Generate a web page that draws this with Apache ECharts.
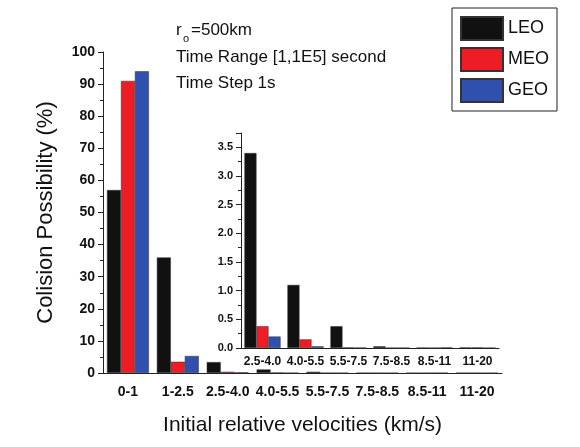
<!DOCTYPE html>
<html><head><meta charset="utf-8">
<script src="https://cdn.jsdelivr.net/npm/echarts@6/dist/echarts.min.js"></script>
<style>html,body{margin:0;background:#fff}#c{width:580px;height:447px}</style>
</head><body><div id="c"></div>
<script>
const categories = ['0-1','1-2.5','2.5-4.0','4.0-5.5','5.5-7.5','7.5-8.5','8.5-11','11-20'];
const leo = [57,36,3.4,1.1,0.38,0.03,0.005,0.01];
const meo = [91,3.5,0.38,0.15,0.01,0.003,0.003,0.01];
const geo = [94,5.3,0.2,0.03,0.005,0.003,0.01,0.003];
const insetCategories = categories.slice(2);
const colors = ['#111111','#ee1c25','#3050b0'];
const F = 'Arial, Liberation Sans, sans-serif';
const chart = echarts.init(document.getElementById('c'));
const axisLine = {show:true, lineStyle:{color:'#222',width:1}};
const bar = (name, data, xi, yi, c) => ({type:'bar', name, data, xAxisIndex:xi, yAxisIndex:yi,
  barGap:'0%', barCategoryGap:'16%', itemStyle:{color:c, borderColor:'#333', borderWidth:0.5}});
chart.setOption({
  animation:false,
  textStyle:{fontFamily:F},
  grid:[{left:103,right:78,top:52,bottom:74},{left:241,right:81,top:133,bottom:99}],
  legend:{orient:'vertical', right:23, top:8, icon:'rect', itemWidth:42, itemHeight:23, itemGap:6,
    textStyle:{fontSize:18, color:'#111', fontFamily:F}, borderColor:'#222', borderWidth:1, padding:[8,8,8,8],
    data:['LEO','MEO','GEO']},
  xAxis:[
    {type:'category', data:categories, gridIndex:0, axisLine,
      axisLabel:{fontSize:14, fontWeight:'bold', color:'#111', interval:0, margin:12},
      axisTick:{lineStyle:{color:'#222'}},
      name:'Initial relative velocities (km/s)', nameLocation:'middle', nameGap:42,
      nameTextStyle:{fontSize:21, color:'#111'}},
    {type:'category', data:insetCategories, gridIndex:1, axisLine,
      axisLabel:{fontSize:12, fontWeight:'bold', color:'#111', interval:0, margin:8},
      axisTick:{lineStyle:{color:'#222'}}}
  ],
  yAxis:[
    {type:'value', gridIndex:0, min:0, max:100, interval:10, axisLine, splitLine:{show:false},
      axisTick:{show:true, lineStyle:{color:'#222'}},
      minorTick:{show:true, splitNumber:2, length:3, lineStyle:{color:'#222'}},
      axisLabel:{fontSize:14, fontWeight:'bold', color:'#111'},
      name:'Colision Possibility (%)', nameLocation:'middle', nameGap:46,
      nameTextStyle:{fontSize:22, color:'#111'}},
    {type:'value', gridIndex:1, min:0, max:3.75, interval:0.5, axisLine, splitLine:{show:false},
      axisTick:{show:true, lineStyle:{color:'#222'}},
      minorTick:{show:true, splitNumber:2, length:3, lineStyle:{color:'#222'}},
      axisLabel:{fontSize:11, fontWeight:'bold', color:'#111',
        formatter:v=>v>3.6?'':v.toFixed(1)}}
  ],
  graphic:[
    {type:'text', left:176, top:22, style:{text:'r', fontSize:17, fill:'#111', fontFamily:F}},
    {type:'text', left:183, top:33, style:{text:'o', fontSize:11, fill:'#111', fontFamily:F}},
    {type:'text', left:191, top:22, style:{text:'=500km', fontSize:17, fill:'#111', fontFamily:F}},
    {type:'text', left:176, top:49, style:{text:'Time Range [1,1E5] second', fontSize:17, fill:'#111', fontFamily:F}},
    {type:'text', left:176, top:75, style:{text:'Time Step 1s', fontSize:17, fill:'#111', fontFamily:F}}
  ],
  series:[
    bar('LEO',leo,0,0,colors[0]), bar('MEO',meo,0,0,colors[1]), bar('GEO',geo,0,0,colors[2]),
    bar('LEO',leo.slice(2),1,1,colors[0]), bar('MEO',meo.slice(2),1,1,colors[1]), bar('GEO',geo.slice(2),1,1,colors[2])
  ]
});
</script></body></html>
